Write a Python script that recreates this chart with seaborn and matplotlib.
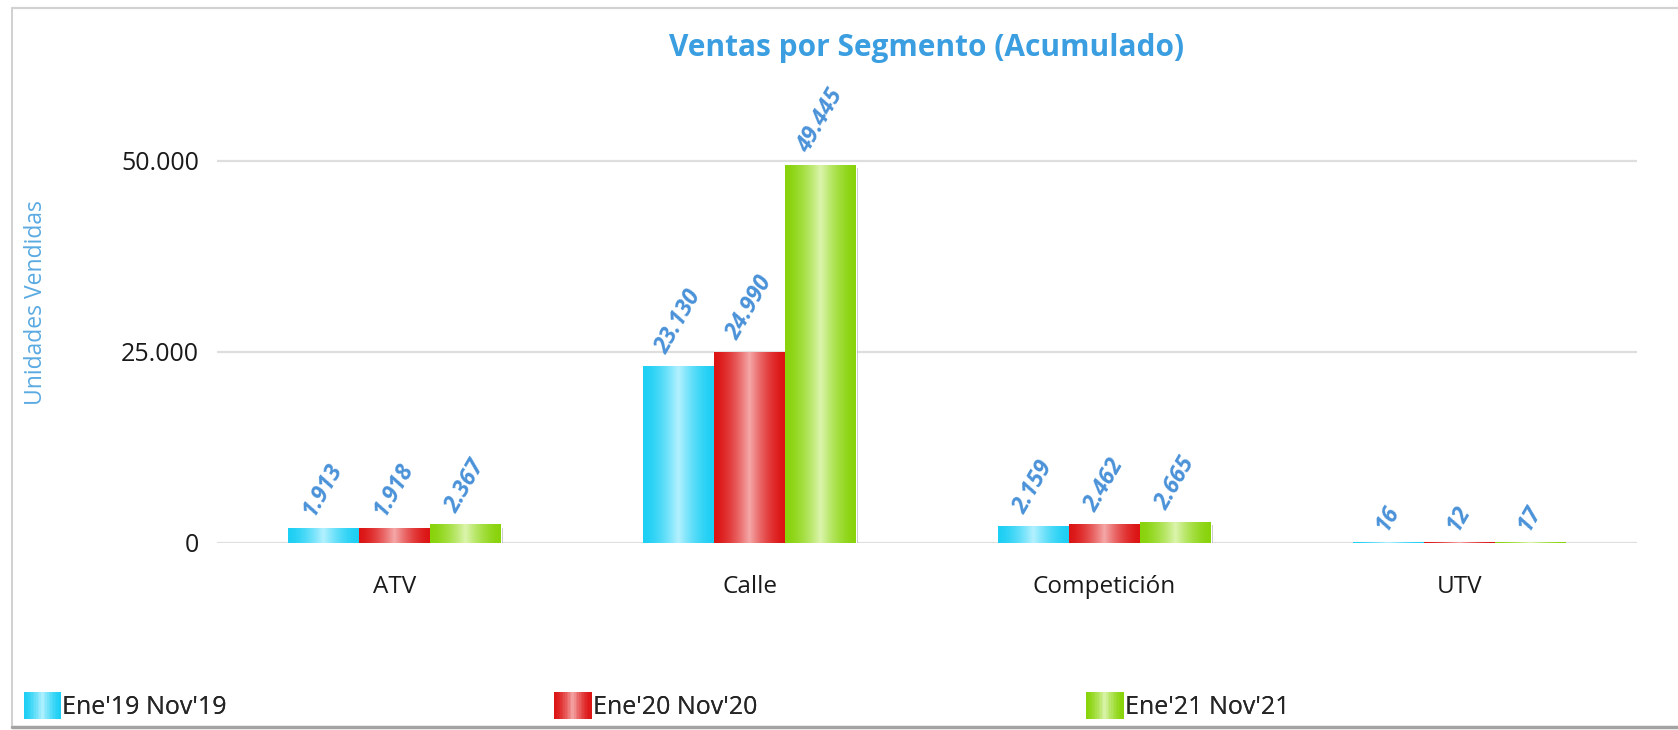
import numpy as np
import pandas as pd
import matplotlib
matplotlib.use("Agg")
import matplotlib.pyplot as plt
import seaborn as sns
from matplotlib.patches import Rectangle, Patch
from matplotlib.lines import Line2D
from matplotlib.legend_handler import HandlerBase
from matplotlib.ticker import FuncFormatter
import matplotlib.patheffects as pe

# ---------------- data ----------------
segments = ["ATV", "Calle", "Competición", "UTV"]
periods = ["Ene'19 Nov'19", "Ene'20 Nov'20", "Ene'21 Nov'21"]
ventas_2019 = [1913, 23130, 2159, 16]
ventas_2020 = [1918, 24990, 2462, 12]
ventas_2021 = [2367, 49445, 2665, 17]
y_ticks = [0, 25000, 50000]
title = "Ventas por Segmento (Acumulado)"
y_label = "Unidades Vendidas"

# ---------------- style ----------------
edge_colors = ["#1ccff4", "#dc1414", "#88d30a"]
mid_colors = ["#b4f1ff", "#f5a8a8", "#dcf5ae"]

sns.set_theme(style="white")
plt.rcParams["font.family"] = ["Open Sans", "DejaVu Sans"]

W, H = 1678, 730
fig = plt.figure(figsize=(W / 100, H / 100), dpi=100)
fig.patch.set_facecolor("white")

y0_px, top_px = 543, 107.5
ax = fig.add_axes([217 / W, (H - y0_px) / H, (1637 - 217) / W, (y0_px - top_px) / H])

df = pd.DataFrame({
    "Segmento": segments * 3,
    "Periodo": [periods[0]] * 4 + [periods[1]] * 4 + [periods[2]] * 4,
    "Ventas": ventas_2019 + ventas_2020 + ventas_2021,
})

sns.barplot(data=df, x="Segmento", y="Ventas", hue="Periodo", hue_order=periods,
            order=segments, palette=edge_colors, saturation=1, width=0.6, gap=0,
            legend=False, ax=ax, zorder=3)

ymax = 57000


def grad_colors(edge, mid, n=64):
    e = np.array(matplotlib.colors.to_rgb(edge))
    m = np.array(matplotlib.colors.to_rgb(mid))
    t = (np.arange(n) + 0.5) / n
    w = (1 - np.abs(2 * t - 1)) ** 1.6
    return e[None, :] + (m - e)[None, :] * w[:, None]


# gradient fill + shadow for each bar
for i, patch in enumerate(ax.patches):
    hue_idx = i // len(segments)
    x, y = patch.get_x(), patch.get_y()
    w, h = patch.get_width(), patch.get_height()
    patch.set_path_effects([pe.SimplePatchShadow(offset=(1.5, -2), shadow_rgbFace="#777777", alpha=0.45),
                            pe.Normal()])
    img = grad_colors(edge_colors[hue_idx], mid_colors[hue_idx])[None, :, :]
    ax.imshow(img, extent=[x, x + w, y, y + h], aspect="auto", zorder=3.5,
              interpolation="bilinear")
    ax.annotate(f"{int(h):,}".replace(",", "."), xy=(x + w / 2, y + h),
                xytext=(0, 6), textcoords="offset points", rotation=60,
                ha="center", va="bottom", fontsize=16.5, fontweight="bold",
                fontstyle="italic", color="#4a92d8", zorder=5)

ax.set_ylim(0, ymax)
ax.set_xlim(-0.5, len(segments) - 0.5)
ax.set_aspect("auto")

ax.set_yticks(y_ticks)
ax.yaxis.set_major_formatter(FuncFormatter(lambda v, p: f"{int(v):,}".replace(",", ".")))
ax.grid(axis="y", color="#dedede", linewidth=1.6, zorder=0)
ax.set_axisbelow(True)
for s in ax.spines.values():
    s.set_visible(False)
ax.tick_params(axis="y", length=0, pad=13, labelsize=18, labelcolor="#1a1a1a")
ax.tick_params(axis="x", length=0, pad=23, labelsize=17.5, labelcolor="#1a1a1a")
ax.set_xlabel("")
ax.set_ylabel("")

# title & y label
fig.text(927 / W, 1 - 48 / H, title, ha="center", va="center", fontsize=21.5,
         fontweight="bold", color="#3a9ee0")
fig.text(36 / W, 1 - 303 / H, y_label, ha="center", va="center", rotation=90,
         fontsize=16.5, color="#5aaae2")


# legend with gradient handles
class GradHandler(HandlerBase):
    def __init__(self, edge, mid):
        super().__init__()
        self.edge, self.mid = edge, mid

    def create_artists(self, legend, orig_handle, xdescent, ydescent, width, height, fontsize, trans):
        cols = grad_colors(self.edge, self.mid, n=24)
        n = len(cols)
        arts = []
        for k, c in enumerate(cols):
            r = Rectangle((-xdescent + k * width / n, -ydescent), width / n * 1.08, height,
                          facecolor=c, edgecolor="none", transform=trans)
            arts.append(r)
        return arts


legend_x_px = [23.5, 554, 1086]
for k, lab in enumerate(periods):
    hnd = Patch(label=lab)
    leg = fig.legend(handles=[hnd], labels=[lab], loc="lower left",
                     bbox_to_anchor=(legend_x_px[k] / W, 10 / H), frameon=False,
                     handlelength=1.5, handleheight=1.3, handletextpad=0.05,
                     borderpad=0, borderaxespad=0,
                     handler_map={hnd: GradHandler(edge_colors[k], mid_colors[k])},
                     prop={"family": ["Open Sans", "DejaVu Sans"], "size": 18})
    fig.add_artist(leg)

# outer frame
fig.add_artist(Line2D([12 / W, 12 / W], [1 - 8 / H, 1 - 727 / H], color="#c8c8c8", lw=1.2,
                      transform=fig.transFigure))
fig.add_artist(Line2D([12 / W, 1], [1 - 8 / H, 1 - 8 / H], color="#d2d2d2", lw=1.6,
                      transform=fig.transFigure))
fig.add_artist(Line2D([12 / W, 1], [1 - 727 / H, 1 - 727 / H], color="#a3a3a3", lw=2.5,
                      transform=fig.transFigure))

fig.savefig("out.png", dpi=100, facecolor="white")
